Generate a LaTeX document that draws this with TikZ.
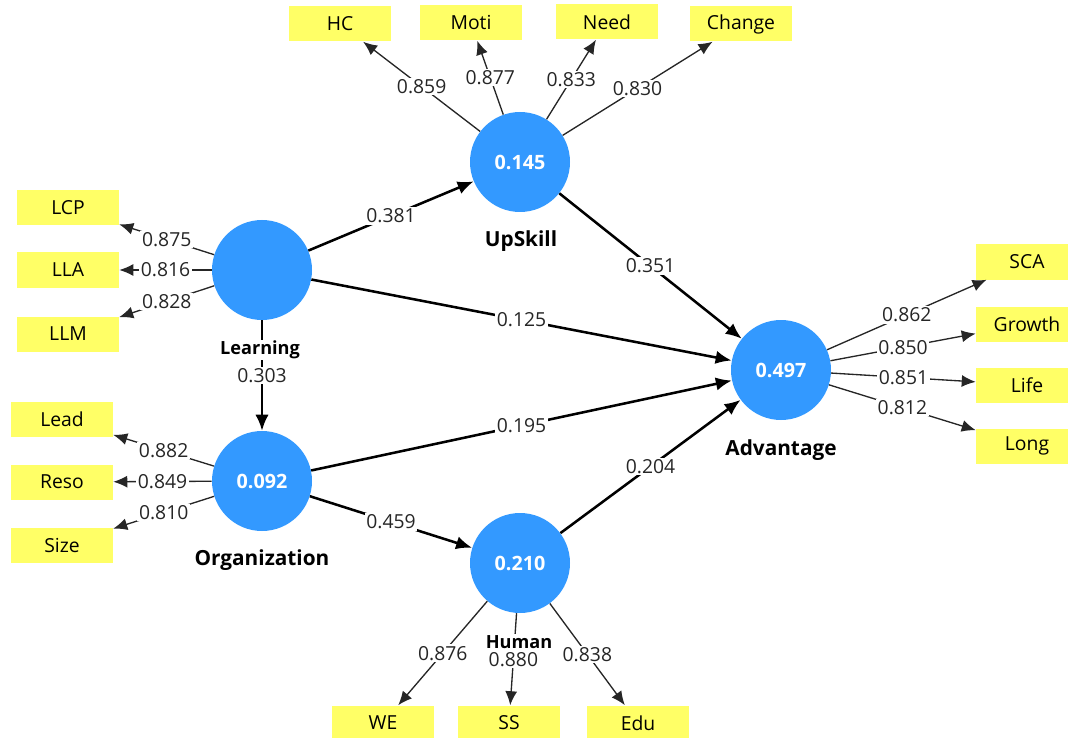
\documentclass[tikz,border=0pt]{standalone}
\usepackage{fontspec}
\setmainfont{Open Sans}
\usetikzlibrary{arrows.meta}
\definecolor{cblue}{RGB}{51,153,255}
\definecolor{cyell}{RGB}{255,255,102}
\begin{document}
\begin{tikzpicture}[x=0.75pt,y=-0.75pt,
 lv/.style={circle,fill=cblue,minimum size=75pt,inner sep=0pt,text=white,font=\fontsize{14.8}{17}\selectfont\bfseries},
 mv/.style={rectangle,fill=cyell,minimum width=76.5pt,minimum height=26.25pt,inner sep=0pt,font=\fontsize{14.5}{17}\selectfont},
 outer/.style={line width=1pt,black!85,-{Latex[length=10.5pt,width=9pt]}},
 inner/.style={line width=1.9pt,-{Latex[length=12pt,width=10pt]}},
 wl/.style={fill=white,inner sep=1.2pt,font=\fontsize{14.5}{17}\selectfont,text=black!85},
 cl/.style={fill=white,inner sep=1pt,font=\fontsize{15.6}{18}\selectfont\bfseries},
 cls/.style={fill=white,inner sep=1pt,font=\fontsize{13.6}{16}\selectfont\bfseries}
]
\useasboundingbox (0,0) rectangle (1068,738);
% latent variables
\node[lv] (L) at (262,270) {};
\node[lv] (U) at (520,162) {0.145};
\node[lv] (O) at (262,481) {0.092};
\node[lv] (H) at (520,563) {0.210};
\node[lv] (A) at (781,370) {0.497};
% indicators
\node[mv] (hc) at (340,24) {HC};
\node[mv] (moti) at (471,23) {Moti};
\node[mv] (need) at (607,22) {Need};
\node[mv] (change) at (741,24) {Change};
\node[mv] (lcp) at (68,208) {LCP};
\node[mv] (lla) at (68,270) {LLA};
\node[mv] (llm) at (68,334) {LLM};
\node[mv] (lead) at (62,419) {Lead};
\node[mv] (reso) at (62,482) {Reso};
\node[mv] (size) at (62,545) {Size};
\node[mv] (sca) at (1027,262) {SCA};
\node[mv] (growth) at (1027,324) {Growth};
\node[mv] (life) at (1027,385) {Life};
\node[mv] (long) at (1027,446) {Long};
\node[mv] (we) at (383,723) {WE};
\node[mv] (ss) at (509,723) {SS};
\node[mv] (edu) at (638,723) {Edu};
% outer loadings
\draw[outer] (U) -- node[wl] {0.859} (hc);
\draw[outer] (U) -- node[wl] {0.877} (moti);
\draw[outer] (U) -- node[wl] {0.833} (need);
\draw[outer] (U) -- node[wl] {0.830} (change);
\draw[outer] (L) -- node[wl] {0.875} (lcp);
\draw[outer] (L) -- node[wl] {0.816} (lla);
\draw[outer] (L) -- node[wl] {0.828} (llm);
\draw[outer] (O) -- node[wl] {0.882} (lead);
\draw[outer] (O) -- node[wl] {0.849} (reso);
\draw[outer] (O) -- node[wl] {0.810} (size);
\draw[outer] (A) -- node[wl] {0.862} (sca);
\draw[outer] (A) -- node[wl] {0.850} (growth);
\draw[outer] (A) -- node[wl] {0.851} (life);
\draw[outer] (A) -- node[wl] {0.812} (long);
\draw[outer] (H) -- node[wl] {0.876} (we);
\draw[outer] (H) -- node[wl] {0.880} (ss);
\draw[outer] (H) -- node[wl] {0.838} (edu);
% inner paths
\draw[inner] (L) -- node[wl] {0.381} (U);
\draw[inner] (L) -- node[wl] {0.125} (A);
\draw[inner] (L) -- node[wl] {0.303} (O);
\draw[inner] (U) -- node[wl] {0.351} (A);
\draw[inner] (O) -- node[wl] {0.195} (A);
\draw[inner] (O) -- node[wl] {0.459} (H);
\draw[inner] (H) -- node[wl] {0.204} (A);
% construct names
\node[cls] (tL) at (260,350) {Learning};
\node[cl] (tU) at (521,241) {UpSkill};
\node[cl] (tO) at (262,560) {Organization};
\node[cls] (tH) at (519,642) {Human};
\node[cl] (tA) at (781,450) {Advantage};
\end{tikzpicture}
\end{document}
